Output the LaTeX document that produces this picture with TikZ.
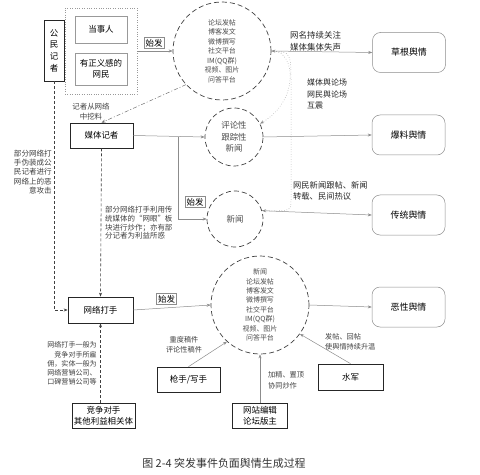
\documentclass[tikz,border=0pt]{standalone}
\usepackage{fontspec}
\setmainfont{Noto Sans CJK SC}
\usetikzlibrary{positioning,arrows.meta}

\begin{document}
\begin{tikzpicture}[x=1bp,y=-1bp,>={Stealth[length=4bp,width=3bp]},
  box/.style={draw=black!85,line width=0.7bp,inner sep=1bp,align=center,font=\fontsize{8.5}{11}\selectfont},
  softbox/.style={draw=black!40,line width=0.5bp,inner sep=1bp,align=center,font=\fontsize{8.5}{11}\selectfont},
  result/.style={draw=black!45,line width=0.5bp,rounded corners=8bp,minimum width=73bp,minimum height=40bp,font=\fontsize{9}{11}\selectfont},
  tag/.style={draw=black!45,line width=0.5bp,inner sep=1.5bp,font=\fontsize{8.5}{10}\selectfont},
  hub/.style={circle,draw=black!75,line width=0.7bp,dash pattern=on 5bp off 3bp,inner sep=0pt,align=center,text=black!70},
  note/.style={text=black!75,inner sep=0pt},
  link/.style={draw=black!45,line width=0.5bp},
  dline/.style={draw=black!75,line width=0.6bp,dash pattern=on 3bp off 2bp},
  dotcurve/.style={draw=black!45,line width=0.5bp,dotted}]
\useasboundingbox (0,0) rectangle (480,475);

% sources
\node[draw=black!40,dotted,minimum width=72bp,minimum height=86bp] (src) at (101,51) {};
\node[softbox,minimum width=52bp,minimum height=27bp] (party) at (101,29.5) {当事人};
\node[softbox,minimum width=52bp,minimum height=32bp] (netizen) at (101,69) {有正义感的\\网民};
\node[box,minimum width=20bp,minimum height=61bp,font=\fontsize{8.5}{11.7}\selectfont] (cit) at (54,50.5) {公\\民\\记\\者};
\node[box,minimum width=63bp,minimum height=25bp] (media) at (101.5,135.5) {媒体记者};
\node[box,minimum width=65bp,minimum height=26bp] (troll) at (100.5,310) {网络打手};
\node[box,minimum width=63bp,minimum height=25bp] (rival) at (103.5,415.5) {竞争对手\\其他利益相关体};
\node[box,minimum width=63bp,minimum height=25bp] (gun) at (188.5,379.5) {枪手/写手};
\node[box,minimum width=55bp,minimum height=25bp] (editor) at (260,415.5) {网站编辑\\论坛版主};
\node[box,minimum width=65bp,minimum height=26bp] (navy) at (350.5,377) {水军};

% media circles
\node[hub,minimum size=98bp,font=\fontsize{7}{9.5}\selectfont] (top) at (222,51) {论坛发帖\\博客发文\\微博撰写\\社交平台\\IM(QQ群)\\视频、图片\\问答平台};
\node[hub,minimum size=58bp,font=\fontsize{8.5}{11.5}\selectfont] (cmt) at (234,137) {评论性\\跟踪性\\新闻};
\node[hub,minimum size=56bp,font=\fontsize{8.5}{11}\selectfont] (news) at (235,219) {新闻};
\node[hub,minimum size=98bp,font=\fontsize{7}{9.5}\selectfont] (big) at (260,305) {新闻\\论坛发帖\\博客发文\\微博撰写\\社交平台\\IM(QQ群)\\视频、图片\\问答平台};

% outcomes
\node[result] (grass) at (409,52.5) {草根舆情};
\node[result] (leak) at (408.5,135) {爆料舆情};
\node[result] (trad) at (408.5,215) {传统舆情};
\node[result] (evil) at (408.5,307) {恶性舆情};

% start tags
\node[tag] (start1) at (154,43) {始发};
\node[tag] (start2) at (195,202) {始发};
\node[tag] (start3) at (166.5,299) {始发};

% labels
\node[note,align=center,font=\fontsize{7.5}{10}\selectfont] (dig) at (91,112) {记者从网络\\中挖料};
\node[note,align=left,anchor=west,text=black!85,font=\fontsize{8.5}{11.7}\selectfont] (silent) at (290,41) {网名持续关注\\媒体集体失声};
\node[note,align=left,anchor=west,text=black!85,font=\fontsize{8}{11.5}\selectfont] (shock) at (307,94) {媒体舆论场\\网民舆论场\\互震};
\node[note,align=left,anchor=west,text=black!85,font=\fontsize{8.3}{11}\selectfont] (follow) at (293,190.5) {网民新闻跟帖、新闻\\转载、民间热议};
\node[note,align=right,anchor=east,font=\fontsize{7.6}{9.2}\selectfont] (fake) at (52,172) {部分网络打\\手伪装成公\\民记者进行\\网络上的恶\\意攻击};
\node[note,align=left,anchor=west,font=\fontsize{7.5}{8.7}\selectfont] (hype) at (105,223) {部分网络打手利用传\\统媒体的“网眼”板\\块进行炒作；亦有部\\分记者为利益所惑};
\node[note,align=right,anchor=east,font=\fontsize{7.1}{9.2}\selectfont] (hire) at (97,363.5) {网络打手一般为\\竞争对手所雇\\佣，实体一般为\\网络营销公司、\\口碑营销公司等};
\node[note,align=center,font=\fontsize{7.2}{10}\selectfont] (draft) at (184,345) {重度稿件\\评论性稿件};
\node[note,align=left,anchor=west,font=\fontsize{7.2}{11}\selectfont] (pin) at (268,380.5) {加精、置顶\\协同炒作};
\node[note,align=left,anchor=west,font=\fontsize{7.2}{10}\selectfont] (post) at (325,342) {发帖、回帖\\使舆情持续升温};
\node[font=\fontsize{11}{13}\selectfont,text=black!80] (cap) at (224,463) {图 2-4 突发事件负面舆情生成过程};

% connectors
\draw[link,->] (src.east) -- (top.west);
\draw[link,->] (top.east) -- (grass.west);
\draw[dotcurve,<->] (top.east) .. controls (295,52) and (300,100) .. (cmt.27);
\draw[dotcurve,->] (top.east) .. controls (291,52) .. (291,85) -- (291,200) .. controls (291,211) .. (news.17);
\draw[draw=black!55,line width=0.5bp,dash pattern=on 4bp off 2bp on 1bp off 2bp,->] (top.223) -- (media.north);
\draw[link,->] (media.east) -- (cmt.west);
\coordinate (fork) at (178,137);
\draw[link,->] (fork) |- (news.west);
\draw[link,->] (cmt.east) -- (leak.west);
\draw[link,->] (news.17) -- (trad.west);
\draw[dline,->] (cit.south) |- (troll.west);
\draw[dline,->] (media.south) -- (troll.north);
\draw[dline,->] (troll.south |- rival.north) -- (troll.south);
\draw[link,->] (troll.east) -- (big.west);
\draw[link,->] (big.east) -- (evil.west);
\draw[link,->] (gun.north) -- (big.228);
\draw[link,->] (editor.north) -- (big.south);
\draw[link,->] (navy.north) -- (big.-36);
\end{tikzpicture}
\end{document}
